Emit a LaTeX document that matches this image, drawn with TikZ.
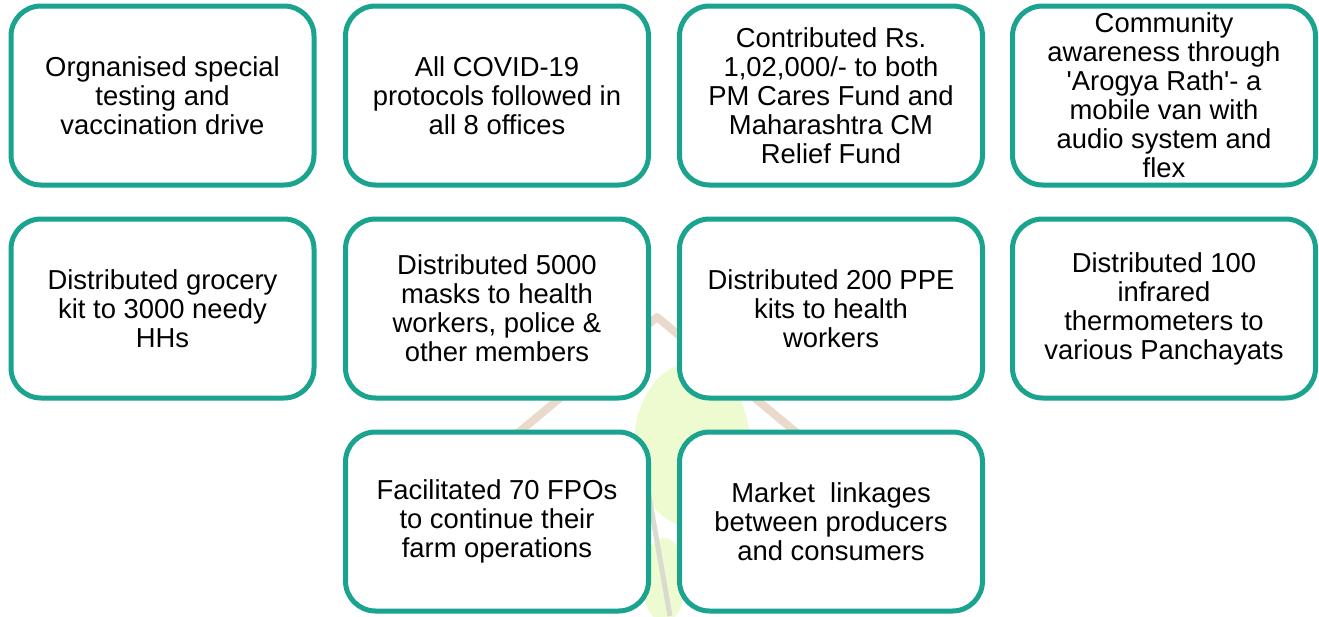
\documentclass[tikz,border=0pt]{standalone}
\usepackage{fontspec}
\setmainfont{Liberation Sans}
\definecolor{tealbox}{RGB}{26,163,142}
\definecolor{rooftan}{RGB}{233,218,203}
\definecolor{leafgreen}{RGB}{238,251,208}
\definecolor{stemgrey}{RGB}{218,218,206}
\begin{document}
\begin{tikzpicture}[x=1pt,y=-1pt,
  box/.style={draw=tealbox, line width=5pt, rounded corners=30pt, fill=white,
    minimum width=303pt, minimum height=179pt, align=center, inner sep=0pt,
    font=\fontsize{27.4}{29}\selectfont}]
\useasboundingbox[fill=white] (0,0) rectangle (1319,616);
% faint watermark
\fill[leafgreen] (692,445) ellipse [x radius=58, y radius=82];
\fill[leafgreen] (664,580) ellipse [x radius=22, y radius=42];
\draw[stemgrey, line width=5pt] (648,490) -- (670,616);
\draw[rooftan, line width=8pt, line join=round] (500,448) -- (657,317) -- (815,448);
% boxes
\node[box] (b1) at (162.5,95.5) {Orgnanised special\\testing and\\vaccination drive};
\node[box] (b2) at (497,95.5) {All COVID-19\\protocols followed in\\all 8 offices};
\node[box] (b3) at (831,95.5) {Contributed Rs.\\1,02,000/- to both\\PM Cares Fund and\\Maharashtra CM\\Relief Fund};
\node[box] (b4) at (1164,95.5) {Community\\awareness through\\\textquotesingle Arogya Rath\textquotesingle- a\\mobile van with\\audio system and\\flex};
\node[box] (b5) at (162.5,308.5) {Distributed grocery\\kit to 3000 needy\\HHs};
\node[box] (b6) at (497,308.5) {Distributed 5000\\masks to health\\workers, police \&\\other members};
\node[box] (b7) at (831,308.5) {Distributed 200 PPE\\kits to health\\workers};
\node[box] (b8) at (1164,308.5) {Distributed 100\\infrared\\thermometers to\\various Panchayats};
\node[box] (b9) at (497,521.5) {Facilitated 70 FPOs\\to continue their\\farm operations};
\node[box] (b10) at (831,521.5) {Market\ \ linkages\\between producers\\and consumers};
\end{tikzpicture}
\end{document}
